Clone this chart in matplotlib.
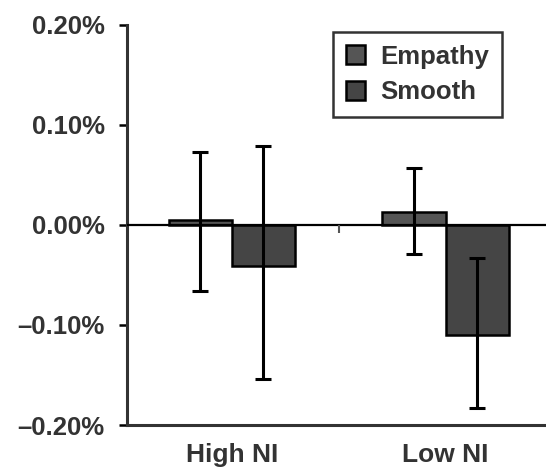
import matplotlib
matplotlib.use("Agg")
import matplotlib.pyplot as plt
import numpy as np

plt.rcParams["font.family"] = ["Liberation Sans", "DejaVu Sans"]
plt.rcParams["font.weight"] = "bold"

groups = ["High NI", "Low NI"]
series = ["Empathy", "Smooth"]
# values in percent
means = {"Empathy": [0.005, 0.013], "Smooth": [-0.041, -0.110]}
err_lo = {"Empathy": [0.071, 0.042], "Smooth": [0.113, 0.073]}
err_hi = {"Empathy": [0.068, 0.044], "Smooth": [0.120, 0.077]}
colors = {"Empathy": "#555555", "Smooth": "#454545"}
yticks = [-0.20, -0.10, 0.00, 0.10, 0.20]

txt = "#333333"
fig = plt.figure(figsize=(5.46, 4.73), dpi=100)
ax = fig.add_axes([127 / 546, 48 / 473, 1 - 127 / 546, 400 / 473])

x = np.arange(len(groups))
width = 0.295
for i, s in enumerate(series):
    off = (i - 0.5) * width
    ax.bar(x + off, means[s], width, color=colors[s], edgecolor="black",
           linewidth=1.8, label=s, zorder=2)
    ax.errorbar(x + off, means[s], yerr=[err_lo[s], err_hi[s]], fmt="none",
                ecolor="black", elinewidth=2.2, capsize=6, capthick=2.2, zorder=4)

ax.axhline(0, color="black", linewidth=1.6, zorder=3)
# small category-boundary tick on the zero line
ax.vlines(0.5, -0.008, 0, color="#555555", linewidth=1.5, zorder=3)

ax.set_xlim(-0.49, 1.47)
ax.set_ylim(-0.2, 0.2)
ax.set_yticks(yticks)
ax.set_yticklabels([f"{v:.2f}%".replace("-", "\u2013") for v in yticks])
ax.set_xticks(x)
ax.set_xticklabels(groups)
ax.tick_params(axis="y", direction="out", length=6, width=1.8, labelsize=18.5,
               labelcolor=txt, pad=10)
ax.tick_params(axis="x", length=0, labelsize=19, labelcolor=txt, pad=13)

for side in ["top", "right"]:
    ax.spines[side].set_visible(False)
for side in ["left", "bottom"]:
    ax.spines[side].set_linewidth(2.2)
    ax.spines[side].set_color("#333333")

leg = ax.legend(loc="upper left", bbox_to_anchor=(0.492, 0.9825),
                prop={"size": 18.5, "weight": "bold"},
                frameon=True, fancybox=False, handlelength=0.75, handleheight=0.75,
                handletextpad=0.6, borderpad=0.5, borderaxespad=0,
                labelspacing=0.45, labelcolor=txt)
leg.get_frame().set_edgecolor("black")
leg.get_frame().set_linewidth(1.8)

fig.savefig("out.png", dpi=100)
